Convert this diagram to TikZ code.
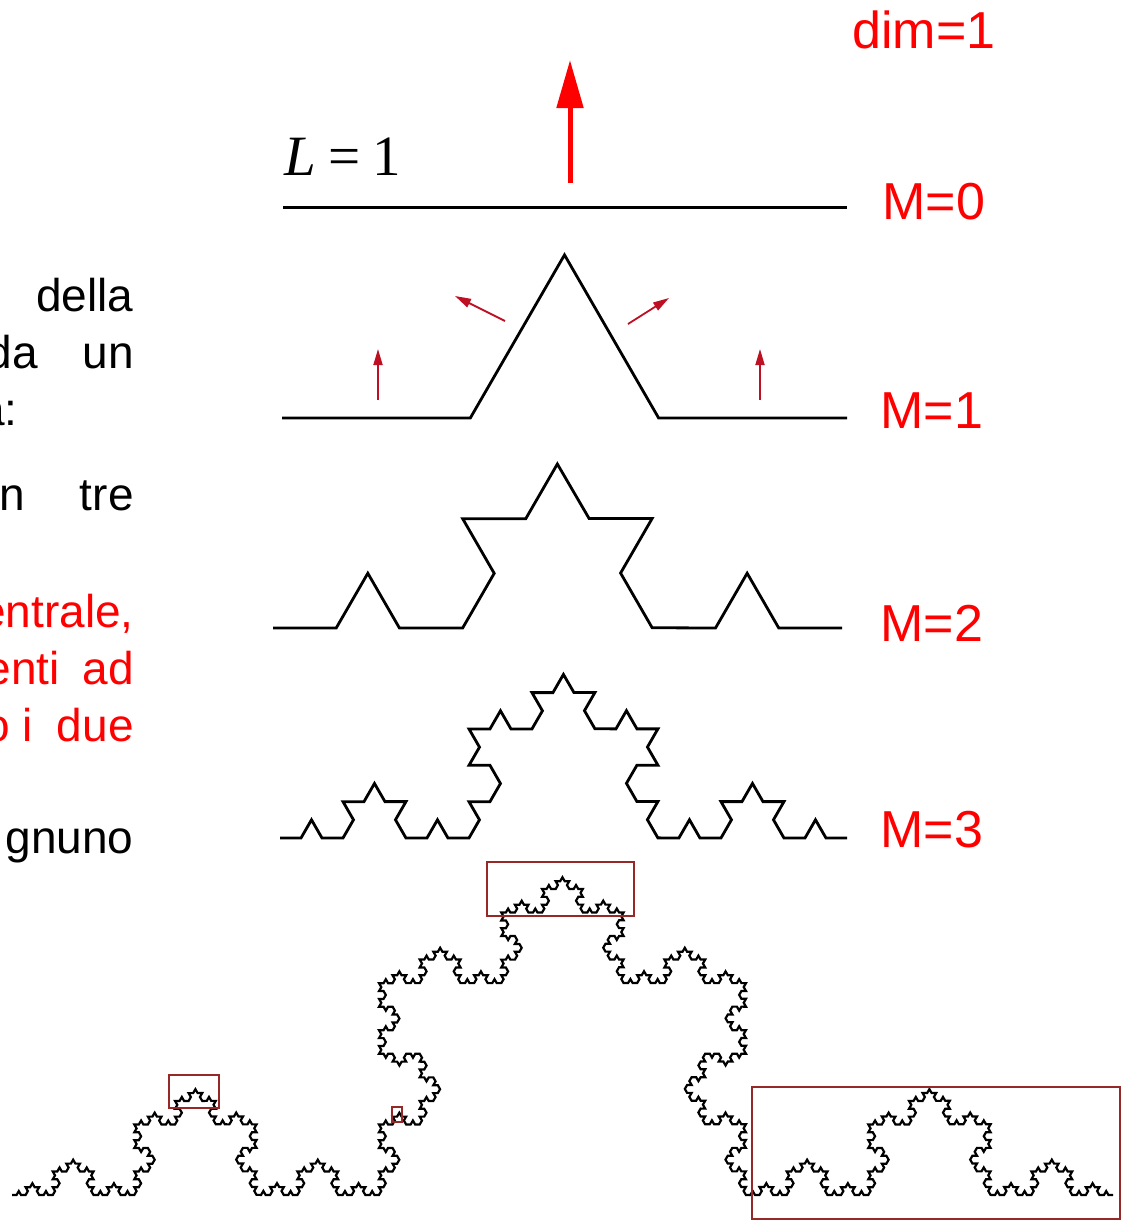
\documentclass[tikz,border=0pt]{standalone}
\usepackage{fontspec}
\setmainfont{Liberation Sans}
\newfontfamily\timesf{Liberation Serif}
\usetikzlibrary{decorations.fractals,arrows.meta}
\definecolor{boxred}{RGB}{150,40,40}
\definecolor{arrred}{RGB}{190,15,35}
\begin{document}
\begin{tikzpicture}[x=0.5pt,y=-0.5pt,
  curve/.style={line width=1.4pt, black, line join=miter, decoration=Koch snowflake},
  fine/.style={line width=1.1pt, black, line join=miter, decoration=Koch snowflake},
  lab/.style={text=red, font=\fontsize{26}{26}\selectfont, anchor=base west, inner sep=0},
  body/.style={font=\fontsize{23}{23}\selectfont, anchor=base east, inner sep=0},
  redbody/.style={body, text=red},
  bigarrow/.style={red, line width=2.5pt, -{Triangle[width=13pt,length=24pt]}},
  smallarrow/.style={arrred, line width=0.9pt, -{Triangle[width=4.5pt,length=8pt]}},
  zoombox/.style={draw=boxred, line width=1pt}
]
\useasboundingbox (0,0) rectangle (1124,1221);
\clip (0,0) rectangle (1124,1221);

% left text (cut by the picture edge, as in the reference)
\node[body] (t1) at (134,311) {della};
\node[body] (t2a) at (38,368) {da};
\node[body] (t2b) at (134,368) {un};
\node[body] (t3) at (18,425) {a:};
\node[body] (t4a) at (25,510) {n};
\node[body] (t4b) at (134,510) {tre};
\node[redbody] (t5) at (134,627) {entrale,};
\node[redbody] (t6a) at (60,684) {enti};
\node[redbody] (t6b) at (134,684) {ad};
\node[redbody] (t7a) at (10,741) {o};
\node[redbody] (t7b) at (33,741) {i};
\node[redbody] (t7c) at (134,741) {due};
\node[body] (t8) at (134,853) {gnuno};

% labels
\node[lab] (dim) at (852,48) {dim=1};
\node[lab] (m0) at (882,219) {M=0};
\node[lab] (m1) at (880,428) {M=1};
\node[lab] (m2) at (880,641) {M=2};
\node[lab] (m3) at (880,847) {M=3};
\node[anchor=base west, inner sep=0, font=\timesf\fontsize{28.5}{28.5}\selectfont] (L) at (284,175) {\textit{L}\hspace{6pt}=\hspace{6pt}1};

% M=0
\coordinate (k0s) at (283,207);
\coordinate (k0e) at (847,207);
\draw[line width=1.5pt] (k0s) -- (k0e);
\coordinate (a0) at (570,183);
\coordinate (a1) at (570,60);
\draw[bigarrow] (a0) -- (a1);

% M=1
\coordinate (k1s) at (282,418);
\coordinate (k1e) at (847,418);
\draw[curve] decorate{(k1s) -- (k1e)};
\coordinate (s1a) at (378,400); \coordinate (s1b) at (378,349);
\coordinate (s2a) at (760,400); \coordinate (s2b) at (760,349);
\coordinate (s3a) at (505,321); \coordinate (s3b) at (455,296);
\coordinate (s4a) at (628,324); \coordinate (s4b) at (669,298);
\draw[smallarrow] (s1a) -- (s1b);
\draw[smallarrow] (s2a) -- (s2b);
\draw[smallarrow] (s3a) -- (s3b);
\draw[smallarrow] (s4a) -- (s4b);

% M=2
\coordinate (k2s) at (273,628);
\coordinate (k2e) at (842,628);
\draw[curve] decorate{decorate{(k2s) -- (k2e)}};

% M=3
\coordinate (k3s) at (280,838);
\coordinate (k3e) at (847,838);
\draw[curve] decorate{decorate{decorate{(k3s) -- (k3e)}}};

% large curve
\coordinate (k5s) at (12,1195);
\coordinate (k5e) at (1113,1195);
\draw[fine] decorate{decorate{decorate{decorate{decorate{(k5s) -- (k5e)}}}}};

% zoom boxes
\draw[zoombox] (487,862) rectangle (634,916);
\draw[zoombox] (169,1075) rectangle (219,1108);
\draw[zoombox] (392,1107) rectangle (402,1122);
\draw[zoombox] (752,1087) rectangle (1120,1219);
\end{tikzpicture}
\end{document}
